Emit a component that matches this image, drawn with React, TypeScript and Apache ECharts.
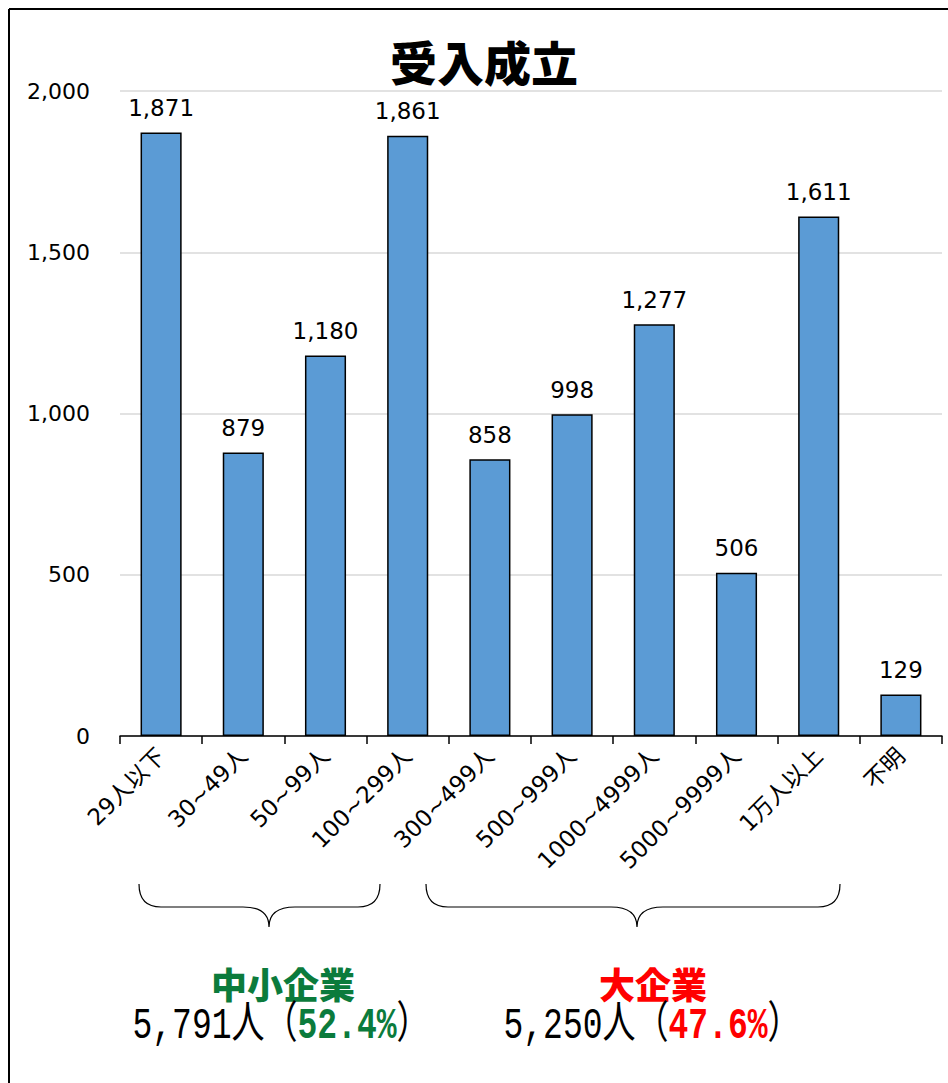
import React, { useEffect, useRef } from "react";
import * as echarts from "echarts";

const categories = ["29人以下", "30~49人", "50~99人", "100~299人", "300~499人", "500~999人", "1000~4999人", "5000~9999人", "1万人以上", "不明"];
const values = [1871, 879, 1180, 1861, 858, 998, 1277, 506, 1611, 129];
const yTicks = { min: 0, max: 2000, interval: 500 };
const titleText = "受入成立";
const smeLabel = "中小企業";
const smeCount = "5,791人";
const smeShare = "52.4%";
const largeLabel = "大企業";
const largeCount = "5,250人";
const largeShare = "47.6%";

function bracePath(L: number, R: number, top: number, mid: number, tipX: number, tipY: number) {
  const r = 22;
  const t = 26;
  return `M${L},${top} Q${L},${mid} ${L + r},${mid} L${tipX - t},${mid} Q${tipX},${mid} ${tipX},${tipY} Q${tipX},${mid} ${tipX + t},${mid} L${R - r},${mid} Q${R},${mid} ${R},${top}`;
}

echarts.graphic.registerShape("brace1", echarts.graphic.extendPath(bracePath(131, 372, 876, 899, 261, 919), {}));
echarts.graphic.registerShape("brace2", echarts.graphic.extendPath(bracePath(418, 832, 876, 899, 629, 919), {}));

const fmt = (v: number) => v.toLocaleString("en-US");

export default function App() {
  const ref = useRef<HTMLDivElement>(null);
  useEffect(() => {
    if (!ref.current) return;
    const chart = echarts.init(ref.current, null, { renderer: "svg" });
    const numFont = "DejaVu Sans, Verdana, sans-serif";
    const lineFont = "'Liberation Mono', 'Noto Sans CJK JP', monospace";
    chart.setOption({
      animation: false,
      backgroundColor: "#ffffff",
      grid: { left: 112, right: 6, top: 83, bottom: 347, containLabel: false },
      xAxis: {
        type: "category",
        data: categories,
        axisLine: { lineStyle: { color: "#000", width: 1.5 } },
        axisTick: { show: true, length: 8, lineStyle: { color: "#000", width: 1.5 } },
        axisLabel: {
          rotate: 45,
          interval: 0,
          margin: 16,
          fontSize: 23,
          color: "#000",
          fontFamily: "DejaVu Sans, Noto Sans CJK JP, sans-serif",
        },
      },
      yAxis: {
        type: "value",
        min: yTicks.min,
        max: yTicks.max,
        interval: yTicks.interval,
        axisLine: { show: false },
        axisTick: { show: false },
        splitLine: { lineStyle: { color: "#d9d9d9", width: 1.5 } },
        axisLabel: { margin: 30, fontSize: 22, color: "#000", fontFamily: numFont, formatter: (v: number) => fmt(v) },
      },
      series: [
        {
          type: "bar",
          data: values,
          barWidth: "50%",
          itemStyle: { color: "#5b9bd5", borderColor: "#000", borderWidth: 1.5 },
          label: {
            show: true,
            position: "top",
            distance: 13,
            fontSize: 23,
            color: "#000",
            fontFamily: numFont,
            formatter: (p: any) => fmt(p.value),
          },
        },
      ],
      graphic: [
        { type: "line", shape: { x1: 1, y1: 1, x2: 940, y2: 1 }, style: { stroke: "#000", lineWidth: 2 } },
        { type: "line", shape: { x1: 1, y1: 1, x2: 1, y2: 1075 }, style: { stroke: "#000", lineWidth: 2 } },
        {
          type: "text",
          x: 476,
          y: 52,
          style: {
            text: titleText,
            align: "center",
            verticalAlign: "middle",
            fontSize: 47,
            fontWeight: 900,
            fontFamily: "Noto Sans CJK JP, sans-serif",
            fill: "#000",
          },
        },
        { type: "brace1", x: 0, y: 0, style: { fill: "none", stroke: "#000", lineWidth: 1.2 } },
        { type: "brace2", x: 0, y: 0, style: { fill: "none", stroke: "#000", lineWidth: 1.2 } },
        {
          type: "text",
          x: 275,
          y: 975,
          style: {
            text: smeLabel,
            align: "center",
            verticalAlign: "middle",
            fontSize: 36,
            fontWeight: 900,
            fontFamily: "Noto Sans CJK JP, sans-serif",
            fill: "#0b7b3c",
          },
        },
        {
          type: "text",
          x: 645,
          y: 975,
          style: {
            text: largeLabel,
            align: "center",
            verticalAlign: "middle",
            fontSize: 36,
            fontWeight: 900,
            fontFamily: "Noto Sans CJK JP, sans-serif",
            fill: "#ff0000",
          },
        },
        {
          type: "text",
          x: 273,
          y: 1019,
          scaleX: 0.75,
          style: {
            text: `${smeCount}（{g|${smeShare}}）`,
            align: "center",
            verticalAlign: "middle",
            fontSize: 44,
            fontFamily: lineFont,
            fill: "#000",
            rich: {
              g: { fontSize: 44, fontFamily: lineFont, fontWeight: "bold", fill: "#0b7b3c" },
            },
          },
        },
        {
          type: "text",
          x: 644,
          y: 1019,
          scaleX: 0.75,
          style: {
            text: `${largeCount}（{r|${largeShare}}）`,
            align: "center",
            verticalAlign: "middle",
            fontSize: 44,
            fontFamily: lineFont,
            fill: "#000",
            rich: {
              r: { fontSize: 44, fontFamily: lineFont, fontWeight: "bold", fill: "#ff0000" },
            },
          },
        },
      ],
    });
    return () => chart.dispose();
  }, []);
  return (
    <div
      ref={ref}
      style={{ position: "absolute", left: 8, top: 8, width: 940, height: 1075 }}
    />
  );
}
